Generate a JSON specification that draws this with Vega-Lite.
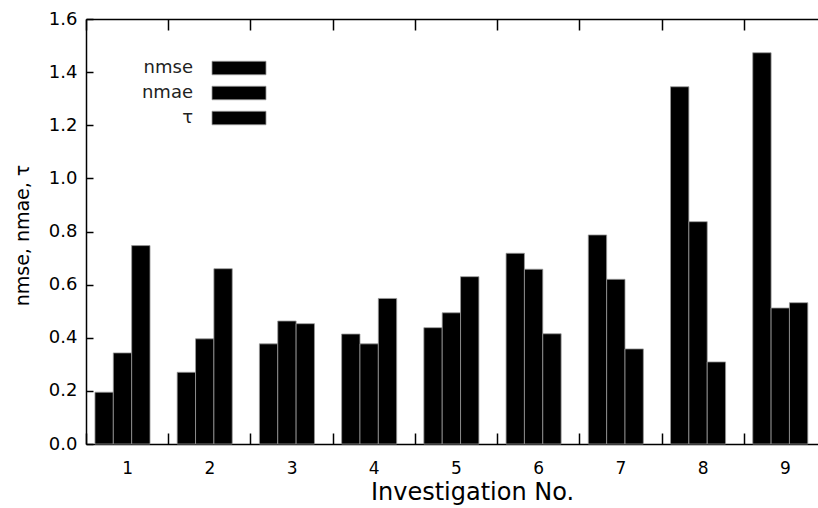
{
  "$schema": "https://vega.github.io/schema/vega-lite/v6.json",
  "width": 740,
  "height": 425,
  "autosize": "none",
  "padding": {"left": 86, "top": 19, "right": 0, "bottom": 64},
  "background": "white",
  "config": {
    "font": "DejaVu Sans",
    "view": {"stroke": null},
    "axis": {"grid": false, "domainColor": "#000", "domainWidth": 1.5, "tickColor": "#000", "tickWidth": 1.5, "labelColor": "#000", "titleColor": "#000", "labelFont": "DejaVu Sans", "titleFont": "DejaVu Sans", "titleFontWeight": "normal"}
  },
  "data": {"values": [
    {"inv": 1, "metric": "nmse", "value": 0.195}, {"inv": 1, "metric": "nmae", "value": 0.343}, {"inv": 1, "metric": "τ", "value": 0.747},
    {"inv": 2, "metric": "nmse", "value": 0.27}, {"inv": 2, "metric": "nmae", "value": 0.396}, {"inv": 2, "metric": "τ", "value": 0.66},
    {"inv": 3, "metric": "nmse", "value": 0.377}, {"inv": 3, "metric": "nmae", "value": 0.463}, {"inv": 3, "metric": "τ", "value": 0.453},
    {"inv": 4, "metric": "nmse", "value": 0.414}, {"inv": 4, "metric": "nmae", "value": 0.377}, {"inv": 4, "metric": "τ", "value": 0.548},
    {"inv": 5, "metric": "nmse", "value": 0.438}, {"inv": 5, "metric": "nmae", "value": 0.494}, {"inv": 5, "metric": "τ", "value": 0.63},
    {"inv": 6, "metric": "nmse", "value": 0.718}, {"inv": 6, "metric": "nmae", "value": 0.658}, {"inv": 6, "metric": "τ", "value": 0.415},
    {"inv": 7, "metric": "nmse", "value": 0.787}, {"inv": 7, "metric": "nmae", "value": 0.62}, {"inv": 7, "metric": "τ", "value": 0.358},
    {"inv": 8, "metric": "nmse", "value": 1.345}, {"inv": 8, "metric": "nmae", "value": 0.837}, {"inv": 8, "metric": "τ", "value": 0.309},
    {"inv": 9, "metric": "nmse", "value": 1.473}, {"inv": 9, "metric": "nmae", "value": 0.512}, {"inv": 9, "metric": "τ", "value": 0.532}
  ]},
  "layer": [
    {
      "mark": {"type": "bar", "stroke": "#999", "strokeWidth": 0.8},
      "encoding": {
        "x": {"field": "inv", "type": "ordinal", "scale": {"paddingInner": 0, "paddingOuter": 0},
          "axis": {"orient": "bottom", "title": "Investigation No.", "titleFontSize": 24, "titlePadding": 4, "titleX": 386, "labelAngle": 0, "labelFontSize": 17, "labelPadding": 27, "tickBand": "extent", "tickSize": -11}},
        "xOffset": {"field": "metric", "sort": ["nmse", "nmae", "τ"], "scale": {"paddingInner": 0, "paddingOuter": 0.74, "align": 0.33}},
        "y": {"field": "value", "type": "quantitative", "scale": {"domain": [0, 1.6], "nice": false},
          "axis": {"orient": "left", "title": "nmse, nmae, τ", "titleFontSize": 19, "titlePadding": 16, "titleY": 216, "values": [0, 0.2, 0.4, 0.6, 0.8, 1.0, 1.2, 1.4, 1.6], "format": ".1f", "labelFontSize": 18, "labelPadding": 16, "tickSize": -7}},
        "color": {"field": "metric", "type": "nominal", "scale": {"domain": ["nmse", "nmae", "τ"], "range": ["#000", "#000", "#000"]},
          "legend": {"orient": "none", "legendX": 139, "legendY": 35, "title": null, "direction": "vertical", "symbolType": "M-2,-0.5H2V0.5H-2Z", "symbolSize": 729, "symbolStrokeColor": "#999", "symbolStrokeWidth": 0.8, "labelAlign": "right", "labelOffset": -60, "labelFontSize": 18, "labelColor": "#222", "labelFont": "DejaVu Sans", "rowPadding": 2}}
      }
    },
    {
      "mark": {"type": "bar", "opacity": 0},
      "encoding": {
        "x": {"field": "inv", "type": "ordinal", "axis": {"orient": "top", "title": null, "labels": false, "tickBand": "extent", "tickSize": -11}},
        "y": {"field": "value", "type": "quantitative", "axis": {"orient": "right", "title": null, "labels": false, "values": [0, 0.2, 0.4, 0.6, 0.8, 1.0, 1.2, 1.4, 1.6], "tickSize": -7}}
      }
    }
  ],
  "resolve": {"axis": {"x": "independent", "y": "independent"}}
}
